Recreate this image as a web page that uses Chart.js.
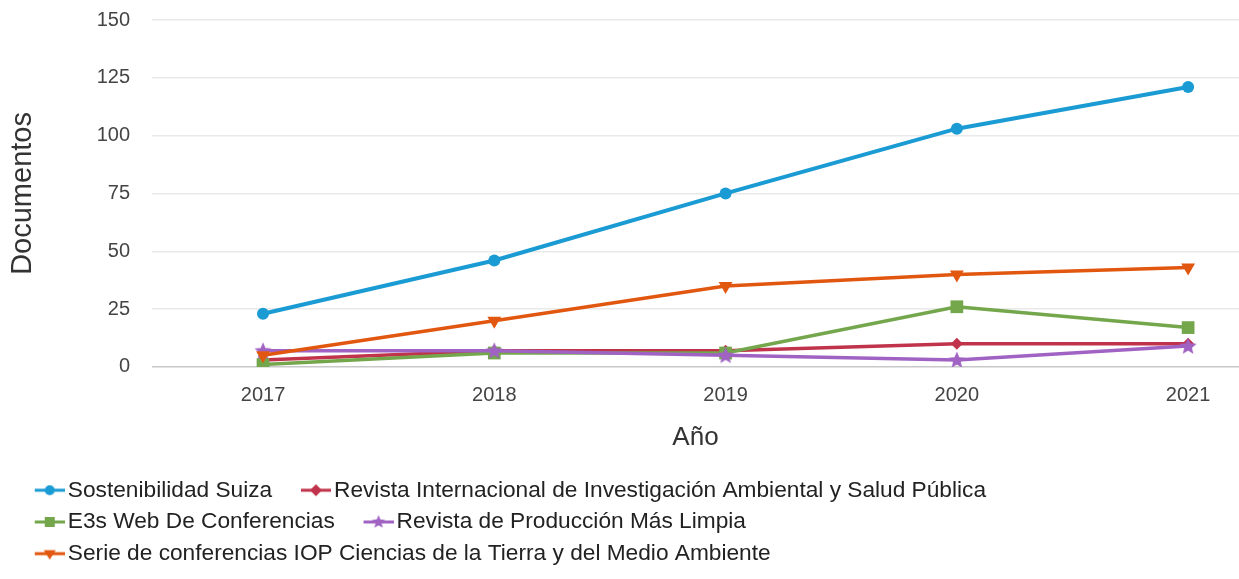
<!DOCTYPE html>
<html>
<head>
    <title>Documentos por año</title>
    <meta charset="utf-8">
    <script src="https://cdn.jsdelivr.net/npm/chart.js@4" type="text/javascript"></script>
    <style>
        body { margin: 0; background: #fff; overflow: hidden; }
        canvas { display: block; }
    </style>
</head>
<body>
    <canvas id="docsChart" width="1239" height="579"></canvas>
    <script type="text/javascript">

        // values
        var years = [2017, 2018, 2019, 2020, 2021];
        var yTicks = [0, 25, 50, 75, 100, 125, 150];

        var seriesNames = [
            'Sostenibilidad Suiza',
            'Revista Internacional de Investigación Ambiental y Salud Pública',
            'E3s Web De Conferencias',
            'Revista de Producción Más Limpia',
            'Serie de conferencias IOP Ciencias de la Tierra y del Medio Ambiente'
        ];
        var sostenibilidadSuiza = [23, 46, 75, 103, 121];
        var revistaInternacional = [3, 7, 7, 10, 10];
        var e3sWeb = [1, 6, 6, 26, 17];
        var revistaProduccion = [7, 7, 5, 3, 9];
        var serieIOP = [5, 20, 35, 40, 43];

        var seriesValues = [sostenibilidadSuiza, revistaInternacional, e3sWeb, revistaProduccion, serieIOP];
        var colors = ['#1a9bd3', '#c0334a', '#74a64c', '#a063c4', '#e2570f'];
        var markers = ['circle', 'diamond', 'square', 'star', 'triDown'];

        var FONT = "'Liberation Sans', Arial, sans-serif";

        function drawMarker(ctx, style, cx, cy, s, color) {
            ctx.fillStyle = color;
            ctx.beginPath();
            if (style === 'circle') {
                ctx.arc(cx, cy, s, 0, Math.PI * 2);
            } else if (style === 'diamond') {
                ctx.moveTo(cx, cy - s);
                ctx.lineTo(cx + s, cy);
                ctx.lineTo(cx, cy + s);
                ctx.lineTo(cx - s, cy);
            } else if (style === 'square') {
                ctx.rect(cx - s, cy - s, 2 * s, 2 * s);
            } else if (style === 'triDown') {
                ctx.moveTo(cx - s, cy - s * 0.6);
                ctx.lineTo(cx + s, cy - s * 0.6);
                ctx.lineTo(cx, cy + s);
            } else if (style === 'star') {
                for (var k = 0; k < 10; k++) {
                    var r = (k % 2 === 0) ? s : s * 0.45;
                    var a = -Math.PI / 2 + k * Math.PI / 5;
                    var px = cx + r * Math.cos(a), py = cy + r * Math.sin(a);
                    if (k === 0) ctx.moveTo(px, py); else ctx.lineTo(px, py);
                }
            }
            ctx.closePath();
            ctx.fill();
        }

        // star marker for the plot itself
        function starImage(color) {
            var c = document.createElement('canvas');
            c.width = 20; c.height = 20;
            drawMarker(c.getContext('2d'), 'star', 10, 10.5, 9, color);
            return c;
        }

        // little line + marker used as legend symbol
        function legendIcon(style, color) {
            var c = document.createElement('canvas');
            c.width = 58; c.height = 22;
            var ctx = c.getContext('2d');
            ctx.strokeStyle = color;
            ctx.lineWidth = 3;
            ctx.beginPath();
            ctx.moveTo(28, 11);
            ctx.lineTo(58, 11);
            ctx.stroke();
            var size = { circle: 5, diamond: 6, square: 5, star: 7, triDown: 6 }[style];
            drawMarker(ctx, style, 43, 11, size, color);
            return c;
        }

        var legendIcons = markers.map(function (m, i) { return legendIcon(m, colors[i]); });

        var pointOpts = {
            circle: { pointStyle: 'circle', pointRadius: 6, pointRotation: 0 },
            diamond: { pointStyle: 'rectRot', pointRadius: 6, pointRotation: 0 },
            square: { pointStyle: 'rect', pointRadius: 9, pointRotation: 0 },
            star: { pointStyle: null, pointRadius: 9, pointRotation: 0 },
            triDown: { pointStyle: 'triangle', pointRadius: 8, pointRotation: 180 }
        };

        var datasets = seriesNames.map(function (name, i) {
            var p = pointOpts[markers[i]];
            return {
                label: name,
                data: years.map(function (y, j) { return { x: y, y: seriesValues[i][j] }; }),
                borderColor: colors[i],
                backgroundColor: colors[i],
                pointBackgroundColor: colors[i],
                pointBorderColor: colors[i],
                pointBorderWidth: 0,
                borderWidth: i === 0 ? 4 : 3.5,
                tension: 0,
                pointStyle: p.pointStyle || starImage(colors[i]),
                pointRadius: p.pointRadius,
                pointRotation: p.pointRotation,
                // later series drawn on top
                order: seriesNames.length - i
            };
        });

        window.onload = function () {
            var ctx = document.getElementById('docsChart').getContext('2d');
            new Chart(ctx, {
                type: 'line',
                data: { datasets: datasets },
                options: {
                    responsive: false,
                    animation: false,
                    layout: { autoPadding: false, padding: { left: 6, right: 0, top: 20, bottom: 4 } },
                    plugins: {
                        tooltip: { enabled: false },
                        legend: {
                            position: 'bottom',
                            align: 'start',
                            labels: {
                                usePointStyle: true,
                                pointStyleWidth: 41.5,
                                boxHeight: 22,
                                padding: 9,
                                color: '#222',
                                font: { family: FONT, size: 22.7 },
                                sort: function (a, b) { return a.datasetIndex - b.datasetIndex; },
                                generateLabels: function (chart) {
                                    var items = Chart.defaults.plugins.legend.labels.generateLabels(chart);
                                    items.forEach(function (it) {
                                        it.pointStyle = legendIcons[it.datasetIndex];
                                        it.rotation = 0;
                                    });
                                    return items;
                                }
                            }
                        }
                    },
                    scales: {
                        x: {
                            type: 'linear',
                            min: 2016.52,
                            max: 2021.22,
                            afterBuildTicks: function (scale) {
                                scale.ticks = years.map(function (v) { return { value: v }; });
                            },
                            afterFit: function (scale) {
                                scale.paddingLeft = 0;
                                scale.paddingRight = 0;
                            },
                            ticks: {
                                padding: 17,
                                color: '#444',
                                font: { family: FONT, size: 20 },
                                callback: function (v) { return String(v); }
                            },
                            grid: { display: false, drawTicks: false },
                            border: { display: false },
                            title: {
                                display: true,
                                text: 'Año',
                                color: '#333',
                                font: { family: FONT, size: 26, lineHeight: 1 },
                                padding: { top: 0, bottom: 19 }
                            }
                        },
                        y: {
                            min: 0,
                            max: 150,
                            afterBuildTicks: function (scale) {
                                scale.ticks = yTicks.map(function (v) { return { value: v }; });
                            },
                            afterFit: function (scale) {
                                scale.width = 146;
                                scale.paddingTop = 0;
                                scale.paddingBottom = 0;
                            },
                            ticks: {
                                padding: 22,
                                color: '#444',
                                font: { family: FONT, size: 20 }
                            },
                            grid: {
                                drawTicks: false,
                                lineWidth: 1.5,
                                color: function (c) { return c.tick && c.tick.value === 0 ? '#c8c8c8' : '#e9e9e9'; }
                            },
                            border: { display: false },
                            title: {
                                display: true,
                                text: 'Documentos',
                                color: '#333',
                                font: { family: FONT, size: 29 },
                                padding: { top: 0, bottom: 0 }
                            }
                        }
                    }
                }
            });
        };

    </script>
</body>
</html>
